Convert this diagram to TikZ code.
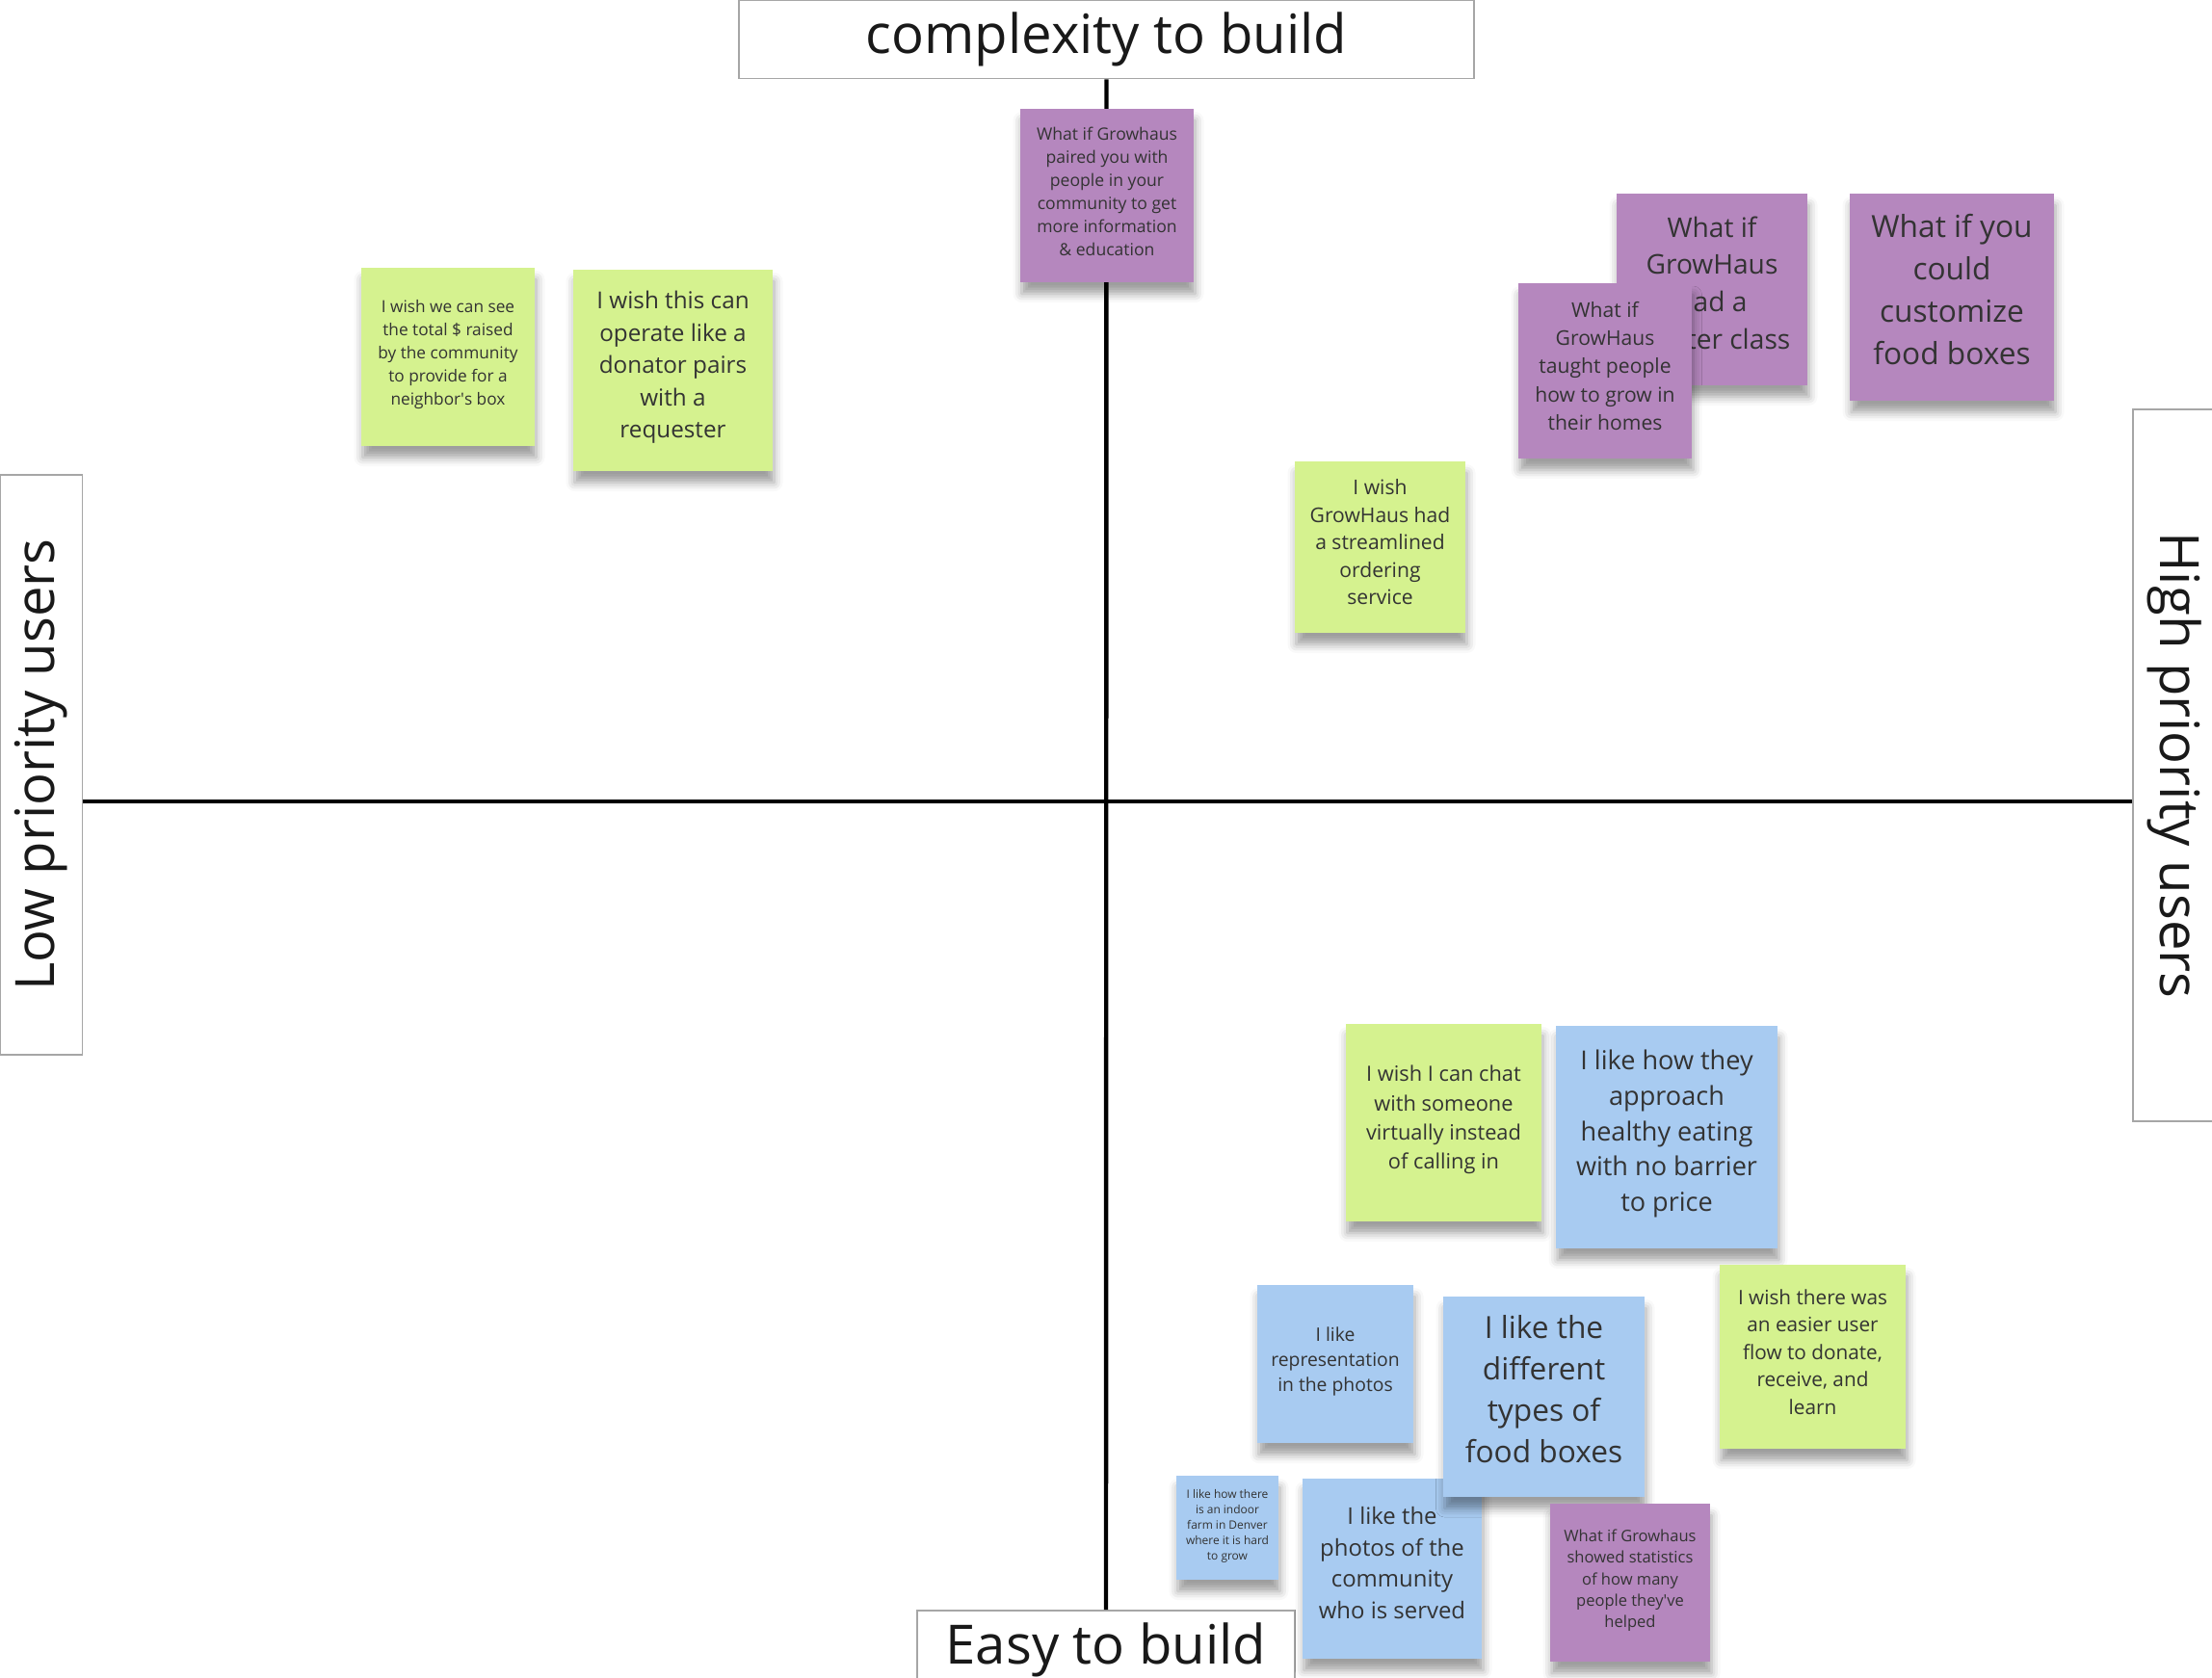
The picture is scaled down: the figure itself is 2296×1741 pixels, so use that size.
\documentclass[tikz,border=0pt]{standalone}
\usepackage{fontspec}
\setmainfont{Open Sans}
\usetikzlibrary{shadows.blur}
\definecolor{stickygreen}{HTML}{D5F28F}
\definecolor{stickyblue}{HTML}{A8CBF1}
\definecolor{stickypurple}{HTML}{B587BE}
\definecolor{stickytext}{HTML}{333333}
\definecolor{boxgray}{HTML}{A6A6A6}

\tikzset{
  sticky/.style={inner sep=0pt, align=center, text=stickytext,
    execute at end node={\rule[-0.5em]{0pt}{0pt}},
    blur shadow={shadow xshift=0.015cm, shadow yshift=-0.12cm,
      shadow blur radius=0.09cm, shadow opacity=38}},
  wish/.style={sticky, fill=stickygreen},
  like/.style={sticky, fill=stickyblue},
  whatif/.style={sticky, fill=stickypurple},
  sz/.style 2 args={minimum width=#1*0.01cm, minimum height=#2*0.01cm},
  fs/.style 2 args={font=\fontsize{#1}{#2}\selectfont},
  axislabel/.style={draw=boxgray, line width=0.45pt, fill=white, inner sep=0pt,
    text=black!90, font=\fontsize{16}{19}\selectfont},
  axis/.style={line width=1.25pt, black}
}

\begin{document}
\begin{tikzpicture}[x=0.01cm, y=-0.01cm]
\useasboundingbox (0,0) rectangle (2296,1741);
% axis labels
\node[axislabel, sz={763}{81}] (complex) at (1148.5,41) {complexity to build};
\node[axislabel, sz={392}{81}] (easy) at (1148,1712.5) {Easy to build};
\node[axislabel, sz={85}{602}] (low) at (43,794) {\rotatebox{90}{Low priority users}};
\node[axislabel, sz={86}{739}] (high) at (2257,794.5) {\rotatebox{-90}{High priority users}};
\coordinate (origin) at (1148,832);
\draw[axis] (complex.south) -- (easy.north);
\draw[axis] (low.east |- origin) -- (high.west |- origin);

% low priority, complex
\node[wish, sz={180}{185}, fs={4.9}{6.8}] (totalraised) at (465,370.5) {I wish we can see\\the total \$ raised\\by the community\\to provide for a\\neighbor\textquotesingle s box};
\node[wish, sz={207}{209}, fs={6.9}{9.5}] (donator) at (698.5,384.5) {I wish this can\\operate like a\\donator pairs\\with a\\requester};

% high priority, complex
\node[whatif, sz={180}{180}, fs={5}{6.8}] (paired) at (1149,203) {What if Growhaus\\paired you with\\people in your\\community to get\\more information\\\& education};
\node[whatif, sz={198}{199}, fs={8}{11}] (masterclass) at (1777,300.5) {What if\\GrowHaus\\had a\\master class};
\node[whatif, sz={180}{182}, fs={6}{8.3}] (taught) at (1666,385) {What if\\GrowHaus\\taught people\\how to grow in\\their homes};
\node[whatif, sz={212}{215}, fs={9}{12.5}] (customize) at (2026,308.5) {What if you\\could\\customize\\food boxes};
\node[wish, sz={177}{178}, fs={6}{8.1}] (streamlined) at (1432.5,568) {I wish\\GrowHaus had\\a streamlined\\ordering\\service};

% high priority, easy
\node[wish, sz={203}{205}, fs={6.2}{8.6}] (chat) at (1498.5,1165.5) {I wish I can chat\\with someone\\virtually instead\\of calling in};
\node[like, sz={230}{231}, fs={7.7}{10.5}] (approach) at (1730,1180.5) {I like how they\\approach\\healthy eating\\with no barrier\\to price};
\node[like, sz={162}{164}, fs={5.5}{7.5}] (representation) at (1386,1416) {I like\\representation\\in the photos};
\node[like, sz={186}{187}, fs={6.8}{9.3}] (photos) at (1445,1628.5) {I like the\\photos of the\\community\\who is served};
\node[like, sz={209}{208}, fs={9}{12.2}] (types) at (1602.5,1450) {I like the\\different\\types of\\food boxes};
\node[wish, sz={193}{191}, fs={5.9}{8.1}] (easier) at (1881.5,1408.5) {I wish there was\\an easier user\\flow to donate,\\receive, and\\learn};
\node[like, sz={106}{108}, fs={3.4}{4.6}] (indoor) at (1274,1586) {I like how there\\is an indoor\\farm in Denver\\where it is hard\\to grow};
\node[whatif, sz={166}{164}, fs={4.7}{6.35}] (statistics) at (1692,1643) {What if Growhaus\\showed statistics\\of how many\\people they\textquotesingle ve\\helped};
\end{tikzpicture}
\end{document}
